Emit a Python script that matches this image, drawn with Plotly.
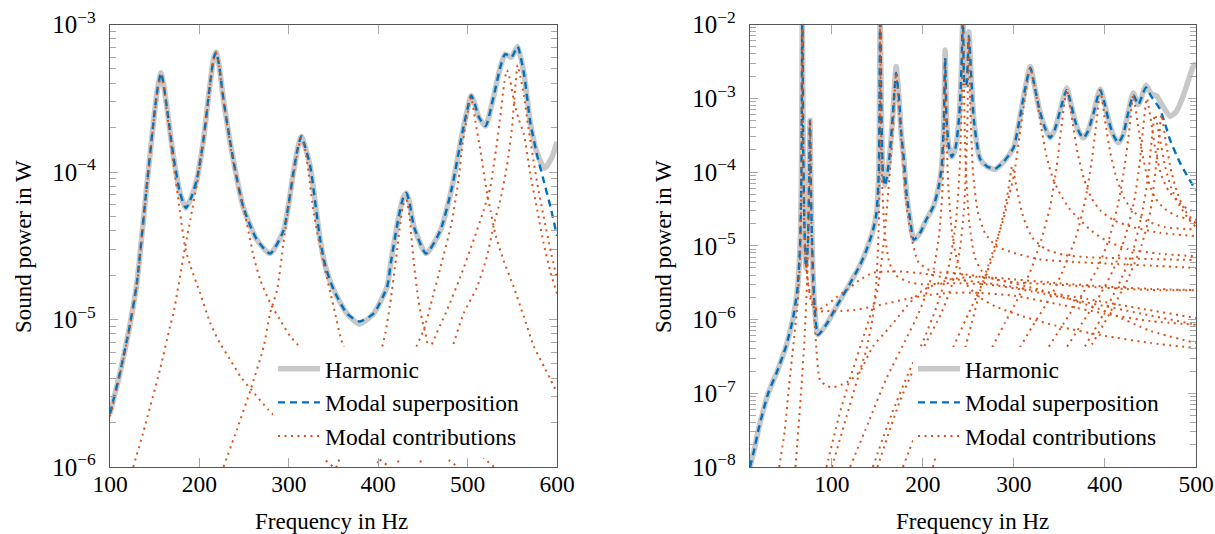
import plotly.graph_objects as go

# ---------------- LEFT PANEL DATA ----------------
left_harm_f = [100, 111, 122, 130, 141, 148.5, 153, 157, 160, 163.5, 171, 178.4, 184.8, 190, 197, 204.5, 212, 216, 218.7, 222, 227, 238, 249, 264, 279, 294, 305, 310, 314, 318, 324, 335, 341, 350, 365, 379, 395, 410, 414, 423, 428, 431.5, 435, 440, 453.5, 469.5, 482.6, 494, 500, 504, 508, 512.4, 520, 529, 536.7, 542, 549, 553, 556, 563, 570.3, 577.8, 586.3, 594.6, 600]
left_harm_p = [2.3e-6, 4.3e-6, 9.0e-6, 1.76e-5, 7.9e-5, 2.14e-4, 3.6e-4, 4.7e-4, 3.9e-4, 2.77e-4, 1.27e-4, 7.2e-5, 5.7e-5, 6.5e-5, 8.8e-5, 1.65e-4, 4.0e-4, 5.9e-4, 6.5e-4, 5.3e-4, 3.07e-4, 1.2e-4, 5.8e-5, 3.5e-5, 2.8e-5, 4.0e-5, 9.8e-5, 1.45e-4, 1.75e-4, 1.5e-4, 1.09e-4, 3.5e-5, 2.29e-5, 1.6e-5, 1.1e-5, 9.3e-6, 1.1e-5, 1.67e-5, 2.4e-5, 5.0e-5, 6.7e-5, 7.2e-5, 6.2e-5, 4.27e-5, 2.8e-5, 4.0e-5, 7.9e-5, 1.83e-4, 2.7e-4, 3.3e-4, 2.9e-4, 2.37e-4, 2.05e-4, 3.23e-4, 5.16e-4, 6.3e-4, 6.0e-4, 6.6e-4, 7.1e-4, 4.66e-4, 2.14e-4, 1.34e-4, 1.06e-4, 1.27e-4, 1.6e-4]

left_modal_f = [100, 111, 122, 130, 141, 148.5, 153, 157, 160, 163.5, 171, 178.4, 184.8, 190, 197, 204.5, 212, 216, 218.7, 222, 227, 238, 249, 264, 279, 294, 305, 310, 314, 318, 324, 335, 341, 350, 365, 379, 395, 410, 414, 423, 428, 431.5, 435, 440, 453.5, 469.5, 482.6, 494, 500, 504, 508, 512.4, 520, 529, 536.7, 542, 549, 553, 556, 563, 570.3, 577.8, 585, 592.7, 600]
left_modal_p = [2.3e-6, 4.3e-6, 9.0e-6, 1.76e-5, 7.9e-5, 2.14e-4, 3.6e-4, 4.7e-4, 3.9e-4, 2.77e-4, 1.27e-4, 7.2e-5, 5.7e-5, 6.5e-5, 8.8e-5, 1.65e-4, 4.0e-4, 5.9e-4, 6.5e-4, 5.3e-4, 3.07e-4, 1.2e-4, 5.8e-5, 3.5e-5, 2.8e-5, 4.0e-5, 9.8e-5, 1.45e-4, 1.75e-4, 1.5e-4, 1.09e-4, 3.5e-5, 2.29e-5, 1.6e-5, 1.1e-5, 9.7e-6, 1.1e-5, 1.67e-5, 2.4e-5, 5.0e-5, 6.7e-5, 7.2e-5, 6.2e-5, 4.27e-5, 2.8e-5, 4.0e-5, 7.9e-5, 1.83e-4, 2.7e-4, 3.3e-4, 2.9e-4, 2.37e-4, 2.05e-4, 3.23e-4, 5.16e-4, 6.3e-4, 6.0e-4, 6.6e-4, 7.1e-4, 4.66e-4, 2.14e-4, 1.3e-4, 8.8e-5, 5.8e-5, 3.7e-5]

# modal contributions, left panel (frequency, power)
L1_f = [100, 111, 122, 130, 141, 148.5, 153, 157, 160, 163.5, 171, 178, 184, 190, 201, 212, 223, 234, 246, 257, 277, 300, 331, 350, 370]
L1_p = [2.2e-6, 4.2e-6, 8.8e-6, 1.7e-5, 7.7e-5, 2.1e-4, 3.5e-4, 4.5e-4, 3.8e-4, 2.6e-4, 1.15e-4, 5.5e-5, 3.1e-5, 2.3e-5, 1.5e-5, 9.5e-6, 6.9e-6, 5.4e-6, 4.1e-6, 3.4e-6, 2.45e-6, 1.8e-6, 1.25e-6, 1.0e-6, 8e-7]
L2_f = [126, 137, 156, 167, 171, 184, 190, 197, 204.5, 212, 216, 218.7, 222, 227, 238, 253, 260.5, 268, 279, 290, 301.5, 316.5, 340, 370, 400, 430]
L2_p = [1.0e-6, 1.7e-6, 4.6e-6, 8.9e-6, 1.1e-5, 3.1e-5, 4.8e-5, 8.2e-5, 1.6e-4, 3.9e-4, 5.8e-4, 6.4e-4, 5.2e-4, 3.0e-4, 1.15e-4, 4.5e-5, 2.7e-5, 1.86e-5, 1.3e-5, 1.0e-5, 7.7e-6, 6.1e-6, 3.6e-6, 2.0e-6, 1.15e-6, 8.5e-7]
L3_f = [227, 242, 257, 272, 279, 287, 294, 300, 305, 310, 314, 318, 322, 328, 339, 350, 361, 380, 400, 450, 480, 500]
L3_p = [1.0e-6, 1.8e-6, 3.3e-6, 6.6e-6, 1.1e-5, 1.6e-5, 3.3e-5, 6e-5, 9.3e-5, 1.4e-4, 1.7e-4, 1.45e-4, 1.0e-4, 5.2e-5, 2.4e-5, 1.23e-5, 6.6e-6, 4.2e-6, 3.0e-6, 1.5e-6, 1.1e-6, 9e-7]
L4_f = [350, 365, 385, 404, 408, 413.5, 420, 425, 428, 431.5, 435, 439.6, 445, 449, 452.7, 456.4, 475, 500, 530, 560]
L4_p = [9e-7, 1.5e-6, 3e-6, 6.4e-6, 8.1e-6, 1.29e-5, 2.6e-5, 4.6e-5, 6.0e-5, 6.5e-5, 5.0e-5, 2.5e-5, 1.35e-5, 1.0e-5, 8.1e-6, 6.3e-6, 3e-6, 1.5e-6, 1.0e-6, 8e-7]
L5_f = [390, 410, 430, 443, 451, 460, 470, 482, 490, 494, 500, 504, 508.7, 514.3, 520, 525.5, 531, 540.4, 551.6, 562.8, 574, 587, 600]
L5_p = [8e-7, 1.5e-6, 3.5e-6, 6.6e-6, 8.5e-6, 1.35e-5, 2.3e-5, 4.5e-5, 9e-5, 1.5e-4, 2.5e-4, 3.2e-4, 2.2e-4, 1.4e-4, 8.3e-5, 5.5e-5, 3.8e-5, 2.5e-5, 1.66e-5, 1.05e-5, 6.6e-6, 4.6e-6, 3.2e-6]
L6_f = [415, 430, 445, 458, 477, 492, 507, 518, 525.5, 529, 533, 537, 541, 544, 548, 551, 557, 563, 570, 578, 585, 593, 600]
L6_p = [8e-7, 1.5e-6, 3e-6, 6.3e-6, 1.16e-5, 1.95e-5, 3.5e-5, 5.5e-5, 7.9e-5, 1.09e-4, 1.6e-4, 2.5e-4, 4.0e-4, 4.9e-4, 4.1e-4, 3.2e-4, 2.3e-4, 1.8e-4, 9.8e-5, 5.5e-5, 3.3e-5, 2.06e-5, 1.5e-5]
L7_f = [440, 455, 470, 482.6, 495.6, 510.6, 521.8, 529, 536.7, 544, 549.7, 553, 556, 559, 563, 568, 578, 585, 593, 600]
L7_p = [8e-7, 1.5e-6, 3e-6, 6.3e-6, 1.1e-5, 1.66e-5, 2.7e-5, 4.3e-5, 6.5e-5, 1.1e-4, 2.0e-4, 3.6e-4, 5.3e-4, 4.4e-4, 3.3e-4, 2.0e-4, 8.3e-5, 5e-5, 2.9e-5, 1.9e-5]

# ---------------- RIGHT PANEL DATA ----------------
right_harm_f = [10, 15, 20, 30, 40, 50, 57, 62, 65, 66.5, 67.5, 68.5, 70, 71.5, 73.5, 75, 75.9, 77, 79, 81, 84.7, 95, 105, 120, 131, 138, 145, 149, 151.5, 153, 154.5, 156, 158.4, 163, 167, 170.5, 174, 176, 179, 182, 186, 190, 197, 204, 211.5, 217, 220.6, 223, 224.4, 226, 228.5, 231.7, 236, 240, 242.5, 244, 246, 247.5, 250.4, 253, 256, 262.8, 270, 279, 288, 296, 300, 306, 312, 318, 322, 328, 334, 339.7, 345, 351, 357.9, 362, 367, 372, 376.3, 381, 387, 394.7, 399, 404, 409, 414.7, 420, 425, 431.2, 436.7, 441, 445, 451, 456.9, 463, 471.6, 478, 485, 492, 497, 500]
right_harm_p = [1.0e-8, 1.8e-8, 3.5e-8, 1.0e-7, 2.0e-7, 4.5e-7, 1.0e-6, 2.5e-6, 1.0e-5, 1.0e-4, 1.5e-2, 2.0e-4, 1.5e-5, 5e-6, 1.0e-5, 8e-5, 5e-4, 5e-5, 5e-6, 1.5e-6, 6.2e-7, 9e-7, 1.5e-6, 3.1e-6, 5.5e-6, 8.8e-6, 1.6e-5, 2.8e-5, 1.0e-4, 1.5e-2, 5e-4, 1.0e-4, 6.5e-5, 1.5e-4, 6e-4, 2.7e-3, 9e-4, 3.5e-4, 1.5e-4, 5e-5, 2.2e-5, 1.2e-5, 1.5e-5, 2.3e-5, 3.4e-5, 6e-5, 1.2e-4, 5e-4, 4.5e-3, 5e-4, 2.2e-4, 1.6e-4, 2.2e-4, 6e-4, 3e-3, 1.3e-2, 1.5e-3, 1.5e-3, 8e-3, 2e-3, 5e-4, 1.5e-4, 1.2e-4, 1.08e-4, 1.35e-4, 1.8e-4, 2.2e-4, 5e-4, 1.3e-3, 2.7e-3, 1.6e-3, 7e-4, 4e-4, 2.9e-4, 3.8e-4, 7e-4, 1.38e-3, 9e-4, 5e-4, 3.4e-4, 2.9e-4, 3.5e-4, 6e-4, 1.34e-3, 9e-4, 5e-4, 3.2e-4, 2.5e-4, 3.2e-4, 6e-4, 1.18e-3, 8.2e-4, 1.1e-3, 1.5e-3, 1.15e-3, 1.07e-3, 8e-4, 5.7e-4, 6.5e-4, 1.0e-3, 1.8e-3, 2.7e-3, 3.0e-3]

right_modal_f = [10, 15, 20, 30, 40, 50, 57, 62, 65, 66.5, 67.5, 68.5, 70, 71.5, 73.5, 75, 75.9, 77, 79, 81, 84.7, 95, 105, 120, 131, 138, 145, 149, 151.5, 153, 154.5, 156, 158.4, 163, 167, 170.5, 174, 176, 179, 182, 186, 190, 197, 204, 211.5, 217, 220.6, 223, 224.4, 226, 228.5, 231.7, 236, 240, 242.5, 244, 246, 247.5, 250.4, 253, 256, 262.8, 270, 279, 288, 296, 300, 306, 312, 318, 322, 328, 334, 339.7, 345, 351, 357.9, 362, 367, 372, 376.3, 381, 387, 394.7, 399, 404, 409, 414.7, 420, 425, 431.2, 436.7, 441, 445, 451, 455, 460.5, 466, 471.6, 482.5, 490, 500]
right_modal_p = [1.0e-8, 1.8e-8, 3.5e-8, 1.0e-7, 2.0e-7, 4.5e-7, 1.0e-6, 2.5e-6, 1.0e-5, 1.0e-4, 1.5e-2, 2.0e-4, 1.5e-5, 5e-6, 1.0e-5, 8e-5, 5e-4, 5e-5, 5e-6, 1.5e-6, 6.2e-7, 9e-7, 1.5e-6, 3.1e-6, 5.5e-6, 8.8e-6, 1.6e-5, 2.8e-5, 1.0e-4, 1.5e-2, 5e-4, 1.0e-4, 6.5e-5, 1.5e-4, 6e-4, 2.2e-3, 9e-4, 3.5e-4, 1.5e-4, 5e-5, 2.2e-5, 1.2e-5, 1.5e-5, 2.3e-5, 3.4e-5, 6e-5, 1.2e-4, 5e-4, 3.5e-3, 5e-4, 2.2e-4, 1.6e-4, 2.2e-4, 6e-4, 3e-3, 1.3e-2, 1.5e-3, 1.5e-3, 7e-3, 2e-3, 5e-4, 1.5e-4, 1.2e-4, 1.1e-4, 1.35e-4, 1.8e-4, 2.2e-4, 5e-4, 1.3e-3, 2.6e-3, 1.6e-3, 7e-4, 4e-4, 2.9e-4, 3.8e-4, 7e-4, 1.3e-3, 9e-4, 5e-4, 3.4e-4, 2.9e-4, 3.5e-4, 6e-4, 1.3e-3, 9e-4, 5e-4, 3.2e-4, 2.5e-4, 3.2e-4, 6e-4, 1.1e-3, 8.2e-4, 1.1e-3, 1.4e-3, 1.05e-3, 9e-4, 7.1e-4, 4.5e-4, 2.7e-4, 1.33e-4, 9e-5, 5.6e-5]

R1_f = [42, 48, 53, 58, 62, 65, 66.5, 67.5, 68.5, 70, 73, 78, 84, 95, 105, 116, 130, 145, 171, 200, 230, 280, 330, 380, 440, 500]
R1_p = [1e-8, 3e-8, 1.3e-7, 5e-7, 1.5e-6, 7e-6, 8e-5, 1.5e-2, 1.5e-4, 1.5e-5, 3.5e-6, 1.8e-6, 1.35e-6, 1.6e-6, 2e-6, 2.5e-6, 3.4e-6, 4.3e-6, 4.5e-6, 4.2e-6, 3.6e-6, 3.0e-6, 2.4e-6, 1.9e-6, 1.4e-6, 1.05e-6]
R2_f = [60, 66, 70, 73, 75, 75.9, 77, 79, 83, 87, 95, 101, 110, 120, 131, 145, 164, 182, 200, 230, 260, 300, 350, 400, 450, 500]
R2_p = [1e-8, 1e-7, 6e-7, 4e-6, 6e-5, 5e-4, 4e-5, 3e-6, 3.9e-7, 1.5e-7, 1.25e-7, 1.2e-7, 1.3e-7, 1.5e-7, 2e-7, 4.3e-7, 8e-7, 1.5e-6, 2.5e-6, 3.5e-6, 3.8e-6, 3.5e-6, 3.1e-6, 2.8e-6, 2.6e-6, 2.5e-6]
R0_f = [70, 74, 78, 84, 95, 110, 125, 145, 165, 182, 200, 230, 260, 300, 350, 400, 450, 500]
R0_p = [1e-5, 3e-6, 1.6e-6, 1.3e-6, 1.3e-6, 1.3e-6, 1.35e-6, 1.5e-6, 1.7e-6, 1.9e-6, 2.1e-6, 2.3e-6, 2.3e-6, 2.1e-6, 1.6e-6, 1.2e-6, 9.5e-7, 8.5e-7]
R3_f = [100, 116, 127, 138, 145, 149, 151.5, 152.5, 153, 153.6, 155, 158, 163, 170, 185, 200, 230, 270, 320, 380, 440, 500]
R3_p = [1e-8, 4.8e-8, 1.4e-7, 4e-7, 1.1e-6, 3.5e-6, 2e-5, 2e-4, 1.5e-2, 1e-3, 8e-5, 1.5e-5, 6e-6, 4e-6, 3.2e-6, 3e-6, 3.1e-6, 3e-6, 2.4e-6, 1.7e-6, 1.2e-6, 8.5e-7]
R4_f = [94, 108, 120, 135, 150, 158, 163, 167, 170.5, 174, 178, 182, 188, 195, 210, 240, 280, 330, 400, 450, 500]
R4_p = [1e-8, 5e-8, 1.6e-7, 6e-7, 2.5e-6, 1.5e-5, 8e-5, 4e-4, 2.2e-3, 6e-4, 1.4e-4, 3.5e-5, 1.2e-5, 6e-6, 4.5e-6, 4.2e-6, 3.5e-6, 2.5e-6, 1.3e-6, 7e-7, 4.8e-7]
R5_f = [120, 140, 160, 180, 195, 205, 212, 218, 221.5, 223.5, 224.4, 225.5, 228, 232, 238, 248, 262, 280, 310, 350, 400, 450, 500]
R5_p = [1e-8, 4e-8, 1.6e-7, 5e-7, 1.2e-6, 2.5e-6, 5e-6, 1.5e-5, 6e-5, 6e-4, 3.5e-3, 6e-4, 6e-5, 1.5e-5, 6e-6, 3e-6, 2e-6, 1.5e-6, 1.1e-6, 8e-7, 6e-7, 4.8e-7, 4.1e-7]
R6_f = [145, 165, 185, 200, 215, 228, 236, 240.5, 243, 244, 245, 247, 251, 257, 265, 280, 300, 340, 380, 420, 460, 500]
R6_p = [1e-8, 5e-8, 2e-7, 5e-7, 1.5e-6, 5e-6, 2e-5, 1.2e-4, 1.5e-3, 1.3e-2, 1.5e-3, 1.2e-4, 2e-5, 7e-6, 4.5e-6, 3.5e-6, 3.2e-6, 3e-6, 2.8e-6, 2.6e-6, 2.5e-6, 2.5e-6]
R7_f = [150, 175, 200, 220, 232, 240, 245, 248.5, 250.4, 252, 255, 260, 268, 280, 300, 330, 370, 420, 460, 500]
R7_p = [1e-8, 8e-8, 4e-7, 1.2e-6, 3e-6, 8e-6, 3e-5, 3e-4, 7e-3, 8e-4, 1e-4, 3e-5, 1.5e-5, 1e-5, 8e-6, 6.5e-6, 6e-6, 5.6e-6, 5.3e-6, 5e-6]
R8_f = [178, 200, 225, 250, 265, 278, 288, 294, 298, 303, 310, 320, 335, 355, 380, 410, 450, 500]
R8_p = [1e-8, 5e-8, 2.5e-7, 1.2e-6, 3e-6, 8e-6, 2.5e-5, 6e-5, 1.2e-4, 6e-5, 2.5e-5, 1.3e-5, 9e-6, 7.5e-6, 7e-6, 6.8e-6, 6.6e-6, 6.4e-6]
R9_f = [211, 230, 250, 263, 272, 281, 288, 295, 300, 306, 312, 318, 324, 330, 336, 343, 351, 360, 370, 385, 400, 425, 460, 500]
R9_p = [1e-8, 8e-8, 6e-7, 2.5e-6, 5.5e-6, 1.2e-5, 2.2e-5, 5e-5, 9e-5, 3e-4, 1e-3, 2.6e-3, 1.2e-3, 4e-4, 1.6e-4, 8e-5, 5e-5, 3.3e-5, 2.4e-5, 1.6e-5, 1.2e-5, 9e-6, 7.8e-6, 7.2e-6]
R10_f = [250, 270, 290, 305, 318, 330, 340, 347, 352, 358, 364, 370, 377, 385, 395, 410, 430, 460, 500]
R10_p = [1e-7, 3e-7, 9e-7, 2e-6, 4.5e-6, 1.2e-5, 3.5e-5, 1.2e-4, 4e-4, 1.3e-3, 5e-4, 1.8e-4, 8e-5, 4.5e-5, 3e-5, 2.2e-5, 1.8e-5, 1.5e-5, 1.35e-5]
R11_f = [280, 300, 320, 340, 355, 368, 378, 385, 390, 395, 400, 406, 413, 421, 430, 445, 465, 500]
R11_p = [1e-7, 3e-7, 8e-7, 2e-6, 5e-6, 1.3e-5, 4e-5, 1.3e-4, 4e-4, 1.3e-3, 5e-4, 1.8e-4, 8e-5, 4.5e-5, 3e-5, 2.2e-5, 1.8e-5, 1.66e-5]
R12_f = [300, 330, 355, 375, 392, 405, 415, 422, 427, 431, 436, 441, 447, 455, 465, 480, 500]
R12_p = [1e-7, 3e-7, 9e-7, 2.2e-6, 5e-6, 1.3e-5, 4e-5, 1.3e-4, 4e-4, 1.1e-3, 4.5e-4, 1.8e-4, 8e-5, 4.5e-5, 3.2e-5, 2.5e-5, 2.25e-5]
R13_f = [320, 350, 375, 395, 410, 422, 432, 438, 442, 446, 451, 456, 462, 470, 480, 490, 500]
R13_p = [1e-7, 3e-7, 9e-7, 2.2e-6, 5e-6, 1.3e-5, 4e-5, 1.3e-4, 4e-4, 1.0e-3, 4.5e-4, 1.8e-4, 9e-5, 5.5e-5, 4e-5, 3.2e-5, 2.8e-5]
R14_f = [340, 370, 395, 415, 430, 440, 447, 451, 455, 460, 466, 473, 482, 492, 500]
R14_p = [1e-7, 3e-7, 1e-6, 3e-6, 8e-6, 2.5e-5, 8e-5, 2.5e-4, 6e-4, 3e-4, 1.2e-4, 6e-5, 3.5e-5, 2.3e-5, 1.8e-5]
R15_f = [350, 380, 405, 425, 440, 450, 456, 460, 462, 467, 473, 480, 488, 500]
R15_p = [1e-7, 3.5e-7, 1.2e-6, 3.5e-6, 1e-5, 3e-5, 1.2e-4, 3.5e-4, 6e-4, 2.5e-4, 1e-4, 5e-5, 3e-5, 2e-5]

left_modes = [(L1_f, L1_p), (L2_f, L2_p), (L3_f, L3_p), (L4_f, L4_p), (L5_f, L5_p), (L6_f, L6_p), (L7_f, L7_p)]
right_modes = [(R1_f, R1_p), (R2_f, R2_p), (R0_f, R0_p), (R3_f, R3_p), (R4_f, R4_p), (R5_f, R5_p), (R6_f, R6_p),
               (R7_f, R7_p), (R8_f, R8_p), (R9_f, R9_p), (R10_f, R10_p), (R11_f, R11_p), (R12_f, R12_p),
               (R13_f, R13_p), (R14_f, R14_p), (R15_f, R15_p)]

left_xticks = [100, 200, 300, 400, 500, 600]
right_xticks = [100, 200, 300, 400, 500]
left_yticks = [1e-6, 1e-5, 1e-4, 1e-3]
right_yticks = [1e-8, 1e-7, 1e-6, 1e-5, 1e-4, 1e-3, 1e-2]

# ---------------- STYLE ----------------
GRAY = "rgb(200,200,200)"
BLUE = "#0072BD"
ORANGE = "#D95319"
FONT = "Liberation Serif, Times New Roman, Times, serif"
FS = 23
W, H = 1215, 534

fig = go.Figure()


def add_panel(xa, ya, legend, hf, hp, mf, mp, modes):
    fig.add_trace(go.Scatter(x=hf, y=hp, mode="lines", name="Harmonic", xaxis=xa, yaxis=ya, legend=legend,
                             line=dict(color=GRAY, width=5.5, shape="spline", smoothing=0.6)))
    fig.add_trace(go.Scatter(x=mf, y=mp, mode="lines", name="Modal superposition", xaxis=xa, yaxis=ya, legend=legend,
                             line=dict(color=BLUE, width=2.4, dash="7px,5px", shape="spline", smoothing=0.6)))
    for i, (f, p) in enumerate(modes):
        fig.add_trace(go.Scatter(x=f, y=p, mode="lines", name="Modal contributions", xaxis=xa, yaxis=ya,
                                 legend=legend, showlegend=(i == 0), legendgroup=legend + "mc",
                                 line=dict(color=ORANGE, width=2, dash="2px,4.5px", shape="spline", smoothing=0.6)))


add_panel("x", "y", "legend", left_harm_f, left_harm_p, left_modal_f, left_modal_p, left_modes)
add_panel("x2", "y2", "legend2", right_harm_f, right_harm_p, right_modal_f, right_modal_p, right_modes)

ydom = [(H - 467) / H, (H - 24.5) / H]
tickc = "#a8a8a8"
framec = "#555555"


def sup(v):
    import math
    e = int(round(math.log10(v)))
    return "10<sup>\u2212%d</sup>" % (-e)


def minor_vals(majors):
    out = []
    for m in majors[:-1]:
        for k in range(2, 10):
            out.append(k * m)
    return out


tfont = dict(family=FONT, size=FS, color="black")
xtfont = dict(family=FONT, size=23.5, color="black")
ytfont = dict(family=FONT, size=25, color="black")
lfont = dict(family=FONT, size=23.5, color="black")
common_x = dict(showgrid=False, zeroline=False, ticks="inside", ticklen=9, tickcolor=tickc, tickwidth=1,
                showline=True, linecolor=framec, linewidth=1.3, mirror="ticks", ticklabelstandoff=-4,
                automargin=False, tickfont=xtfont)
common_y = dict(type="log", showgrid=False, zeroline=False, ticks="inside", ticklen=8, tickcolor=tickc, tickwidth=1,
                showline=True, linecolor=framec, linewidth=1.3, mirror="ticks", ticklabelstandoff=8,
                automargin=False, tickfont=ytfont)

fig.update_layout(
    template="none",
    width=W, height=H, margin=dict(l=0, r=0, t=0, b=0, autoexpand=False),
    paper_bgcolor="white", plot_bgcolor="white",
    font=dict(family=FONT, size=FS, color="black"),
    xaxis=dict(domain=[110 / W, 557 / W], range=[100, 600], tickvals=left_xticks, anchor="y", **common_x),
    yaxis=dict(domain=ydom, range=[-6, -3], tickvals=left_yticks, ticktext=[sup(v) for v in left_yticks],
               anchor="x", minor=dict(tickvals=minor_vals(left_yticks), ticks="inside", ticklen=6,
                                      tickcolor=tickc, showgrid=False), **common_y),
    xaxis2=dict(domain=[750 / W, 1196 / W], range=[10, 500], tickvals=right_xticks, anchor="y2", **common_x),
    yaxis2=dict(domain=ydom, range=[-8, -2], tickvals=right_yticks, ticktext=[sup(v) for v in right_yticks],
                anchor="x2", minor=dict(tickvals=minor_vals(right_yticks), ticks="inside", ticklen=6,
                                        tickcolor=tickc, showgrid=False), **common_y),
    legend=dict(x=273 / W, y=(H - 347) / H, xanchor="left", yanchor="top", bgcolor="white", borderwidth=0,
                itemwidth=42, font=lfont, tracegroupgap=0),
    legend2=dict(x=913 / W, y=(H - 347) / H, xanchor="left", yanchor="top", bgcolor="white", borderwidth=0,
                 itemwidth=42, font=lfont, tracegroupgap=0),
    showlegend=True,
)

ann = dict(xref="paper", yref="paper", showarrow=False, font=tfont, xanchor="center", yanchor="middle")
fig.add_annotation(text="Sound power in W", x=23 / W, y=(H - 247) / H, textangle=-90, **ann)
fig.add_annotation(text="Sound power in W", x=663 / W, y=(H - 247) / H, textangle=-90, **ann)
fig.add_annotation(text="Frequency in Hz", x=331 / W, y=(H - 521) / H, **ann)
fig.add_annotation(text="Frequency in Hz", x=972 / W, y=(H - 521) / H, **ann)

fig.write_html("out.html")
